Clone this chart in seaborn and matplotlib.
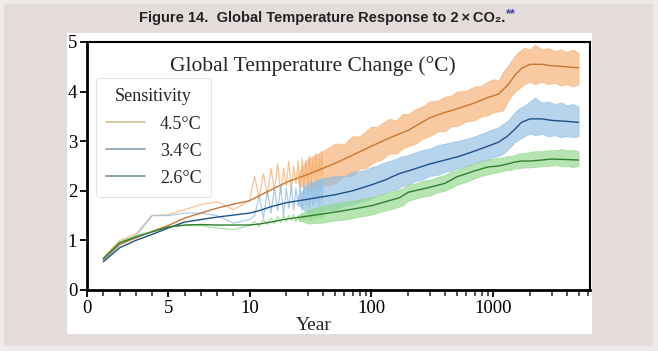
import numpy as np
import pandas as pd
import matplotlib
matplotlib.use("Agg")
import matplotlib.pyplot as plt
import matplotlib.ticker as mticker
from matplotlib.patches import Rectangle
from matplotlib.lines import Line2D
import seaborn as sns

# smoothed response
years_smooth = [1, 2, 3, 4, 5, 6, 7, 8, 9, 10, 12, 15, 20, 30, 50, 70, 100, 130, 170, 200,
                300, 400, 500, 700, 900, 1100, 1300, 1500, 1700, 2000, 2500, 3000, 4000, 5000]
smooth_45 = [0.62, 0.92, 1.05, 1.18, 1.30, 1.45, 1.55, 1.65, 1.73, 1.80, 1.90, 2.02, 2.17, 2.33, 2.55, 2.72, 2.90,
             3.03, 3.15, 3.22, 3.47, 3.58, 3.65, 3.77, 3.88, 3.95, 4.12, 4.33, 4.47, 4.55, 4.55, 4.52, 4.50, 4.48]
smooth_34 = [0.57, 0.85, 1.00, 1.12, 1.25, 1.37, 1.42, 1.47, 1.51, 1.55, 1.60, 1.68, 1.76, 1.83, 1.92, 2.00, 2.12,
             2.22, 2.35, 2.40, 2.54, 2.62, 2.68, 2.80, 2.90, 2.98, 3.10, 3.24, 3.38, 3.45, 3.45, 3.42, 3.40, 3.38]
smooth_26 = [0.63, 0.95, 1.07, 1.17, 1.27, 1.31, 1.32, 1.31, 1.31, 1.31, 1.33, 1.37, 1.43, 1.49, 1.57, 1.63, 1.70,
             1.78, 1.86, 1.97, 2.07, 2.15, 2.28, 2.40, 2.48, 2.50, 2.54, 2.58, 2.60, 2.60, 2.62, 2.64, 2.63, 2.62]

# raw yearly values, first 40 years
years_raw = list(range(1, 41))
raw_45 = [0.65, 1.00, 1.13, 1.50, 1.52, 1.62, 1.72, 1.78, 1.62, 1.80, 2.30, 1.85, 2.35, 1.90, 2.45, 2.00, 2.55,
          1.95, 2.45, 2.10, 2.60, 2.00, 2.50, 2.15, 2.60,
          2.05, 2.65, 2.15, 2.60, 2.10, 2.70, 2.20, 2.65, 2.25, 2.75, 2.20, 2.70, 2.30, 2.80, 2.30]
raw_34 = [0.58, 0.90, 1.08, 1.50, 1.50, 1.55, 1.55, 1.50, 1.35, 1.42, 1.50, 1.90, 1.45, 2.00, 1.55, 2.05, 1.60,
          2.10, 1.50, 2.05, 1.65, 2.10, 1.60, 2.05, 1.70,
          2.10, 1.60, 2.15, 1.70, 2.10, 1.65, 2.20, 1.70, 2.15, 1.75, 2.20, 1.70, 2.25, 1.75, 2.20]
raw_26 = [0.63, 0.97, 1.10, 1.18, 1.27, 1.30, 1.30, 1.25, 1.22, 1.30, 1.38, 1.28, 1.42, 1.32, 1.45, 1.33, 1.48,
          1.36, 1.50, 1.38, 1.50, 1.40, 1.52, 1.38, 1.50,
          1.38, 1.55, 1.40, 1.52, 1.42, 1.56, 1.40, 1.58, 1.43, 1.57, 1.45, 1.60, 1.44, 1.60, 1.46]

# spread of the yearly values after year 25 (envelope)
years_band = [25, 30, 40, 50, 60, 70, 80, 90, 100, 110, 120, 140, 160, 180, 200, 230, 260, 300, 350, 400, 450, 500,
              600, 700, 800, 900, 1000, 1100, 1200, 1300, 1400, 1500, 1600, 1800, 2000, 2200, 2500, 2800, 3200,
              3600, 4000, 4500, 5000]
lo_45 = [2.15, 2.00, 2.10, 2.15, 2.30, 2.30, 2.45, 2.45, 2.55, 2.60, 2.62, 2.75, 2.75, 2.85, 2.90, 2.95, 3.05, 3.10,
         3.20, 3.20, 3.30, 3.30, 3.40, 3.42, 3.50, 3.52, 3.58, 3.60, 3.62, 3.78, 3.90, 4.00, 4.05, 4.15, 4.20,
         4.15, 4.20, 4.15, 4.18, 4.12, 4.15, 4.10, 4.15]
hi_45 = [2.35, 2.65, 2.80, 2.95, 2.95, 3.10, 3.10, 3.20, 3.30, 3.28, 3.35, 3.45, 3.42, 3.55, 3.55, 3.65, 3.70, 3.80,
         3.82, 3.90, 3.92, 4.00, 4.02, 4.10, 4.12, 4.20, 4.25, 4.22, 4.40, 4.50, 4.62, 4.72, 4.80, 4.88, 4.85,
         4.95, 4.85, 4.88, 4.82, 4.85, 4.80, 4.85, 4.78]
lo_34 = [1.72, 1.55, 1.60, 1.62, 1.70, 1.72, 1.78, 1.80, 1.85, 1.90, 1.92, 2.00, 2.02, 2.10, 2.12, 2.20, 2.22, 2.30,
         2.32, 2.38, 2.40, 2.45, 2.50, 2.55, 2.60, 2.62, 2.68, 2.70, 2.75, 2.82, 2.90, 2.98, 3.02, 3.10, 3.15,
         3.12, 3.15, 3.10, 3.12, 3.08, 3.10, 3.08, 3.10]
hi_34 = [1.88, 2.15, 2.25, 2.30, 2.30, 2.38, 2.40, 2.42, 2.48, 2.50, 2.55, 2.60, 2.65, 2.70, 2.72, 2.78, 2.82, 2.85,
         2.92, 2.95, 2.98, 3.00, 3.05, 3.10, 3.15, 3.20, 3.25, 3.28, 3.35, 3.40, 3.50, 3.58, 3.65, 3.72, 3.80,
         3.88, 3.78, 3.80, 3.75, 3.78, 3.72, 3.75, 3.70]
lo_26 = [1.42, 1.34, 1.36, 1.40, 1.42, 1.45, 1.48, 1.50, 1.52, 1.55, 1.58, 1.62, 1.66, 1.70, 1.80, 1.84, 1.88, 1.90,
         1.97, 2.00, 2.06, 2.12, 2.18, 2.25, 2.30, 2.33, 2.36, 2.38, 2.40, 2.42, 2.42, 2.45, 2.45, 2.47, 2.47,
         2.48, 2.50, 2.50, 2.52, 2.50, 2.50, 2.48, 2.50]
hi_26 = [1.50, 1.62, 1.70, 1.75, 1.78, 1.80, 1.83, 1.85, 1.88, 1.90, 1.92, 1.98, 2.00, 2.05, 2.12, 2.15, 2.20, 2.22,
         2.28, 2.32, 2.38, 2.42, 2.50, 2.55, 2.60, 2.62, 2.65, 2.66, 2.68, 2.70, 2.70, 2.72, 2.75, 2.76, 2.78,
         2.80, 2.80, 2.82, 2.82, 2.84, 2.82, 2.82, 2.80]

labels = ["4.5°C", "3.4°C", "2.6°C"]
dark = {"4.5°C": "#c97634", "3.4°C": "#1d5289", "2.6°C": "#2e7f2e"}
light = {"4.5°C": "#f6ae6f", "3.4°C": "#8fbde3", "2.6°C": "#8fd888"}
legend_col = {"4.5°C": "#ddc2a2", "3.4°C": "#8ea6b8", "2.6°C": "#7f9e88"}

sns.set_style("ticks")
plt.rcParams['font.family'] = ['Liberation Serif', 'DejaVu Serif']

df_smooth = pd.DataFrame({
    "year": years_smooth * 3,
    "temp": smooth_45 + smooth_34 + smooth_26,
    "sens": [l for l in labels for _ in years_smooth],
})
df_raw = pd.DataFrame({
    "year": years_raw * 3,
    "temp": raw_45 + raw_34 + raw_26,
    "sens": [l for l in labels for _ in years_raw],
})
bands = {"4.5°C": (lo_45, hi_45), "3.4°C": (lo_34, hi_34), "2.6°C": (lo_26, hi_26)}

fig = plt.figure(figsize=(6.58, 3.51), dpi=100)
fig.patch.set_facecolor("#f0ebeb")
fig.patches.append(Rectangle((4 / 658, 5 / 351), 649 / 658, 342 / 351, transform=fig.transFigure,
                             facecolor="#e4dcdb", edgecolor="none", zorder=-20))
fig.patches.append(Rectangle((67 / 658, 1 - 334 / 351), 525 / 658, 301 / 351, transform=fig.transFigure,
                             facecolor="white", edgecolor="none", zorder=-10))

ax = fig.add_axes([87 / 658, 1 - 290 / 351, 503 / 658, 248 / 351])
ax.set_facecolor("white")

for lab in labels:
    lo, hi = bands[lab]
    ax.fill_between(years_band, lo, hi, color=light[lab], alpha=0.65, lw=0.6, edgecolor=light[lab], zorder=1)

sns.lineplot(data=df_raw, x="year", y="temp", hue="sens", palette=light, estimator=None,
             lw=0.9, alpha=0.75, legend=False, ax=ax, zorder=2)
sns.lineplot(data=df_smooth, x="year", y="temp", hue="sens", palette=dark, estimator=None,
             lw=1.0, legend=False, ax=ax, zorder=3)

ax.set_xscale("symlog", linthresh=10, linscale=1.2)
ax.set_xlim(0, 6200)
ax.set_ylim(0, 5)
ax.xaxis.set_major_locator(mticker.FixedLocator([0, 5, 10, 100, 1000]))
ax.xaxis.set_major_formatter(mticker.FixedFormatter(["0", "5", "10", "100", "1000"]))
minor = [1, 2, 3, 4, 6, 7, 8, 9] + list(range(20, 100, 10)) + list(range(200, 1000, 100)) + [2000, 3000, 4000, 5000, 6000]
ax.xaxis.set_minor_locator(mticker.FixedLocator(minor))
ax.yaxis.set_major_locator(mticker.FixedLocator([0, 1, 2, 3, 4, 5]))
ax.tick_params(axis="both", which="major", length=5, width=1.3, labelsize=13.5, colors="black", pad=2)
ax.tick_params(axis="x", which="minor", length=4, width=1.1)
for s in ax.spines.values():
    s.set_visible(True)
    s.set_color("black")
    s.set_linewidth(1.5)
ax.spines["left"].set_linewidth(2)
ax.spines["bottom"].set_linewidth(2)

ax.set_xlabel("Year", fontsize=14)
ax.set_ylabel("")
ax.xaxis.set_label_coords(0.451, -0.145)
ax.xaxis.label.set_va("center")

ax.text(0.45, 0.905, "Global Temperature Change (°C)", transform=ax.transAxes,
        ha="center", va="center", fontsize=15.5)

handles = [Line2D([0], [0], color=legend_col[l], lw=1.3) for l in labels]
leg = ax.legend(handles, labels, title="Sensitivity", loc="upper left", bbox_to_anchor=(0.003, 0.885),
                fontsize=13, title_fontsize=13, frameon=True, fancybox=True, handlelength=2.2,
                handletextpad=0.8, labelspacing=0.55, borderpad=0.55, borderaxespad=0.4)
leg.get_frame().set_edgecolor("#dddddd")
leg.get_frame().set_linewidth(0.8)
leg._legend_box.sep = 8

title_font = ["Liberation Sans", "DejaVu Sans"]
t = fig.text(0.49, 1 - 18 / 351, "Figure 14.  Global Temperature Response to 2\u2009\u00d7\u2009CO\u2082.",
             ha="center", va="center", fontsize=10.5, fontweight="bold", color="#222222", family=title_font)
fig.canvas.draw()
bb = t.get_window_extent(fig.canvas.get_renderer())
fig.text(bb.x1 / fig.bbox.width, (bb.y1 - 3) / fig.bbox.height, "**", ha="left", va="center",
         fontsize=9, fontweight="bold", color="#3c3fa6", family=title_font)

fig.savefig("out.png", dpi=100, facecolor=fig.get_facecolor())
